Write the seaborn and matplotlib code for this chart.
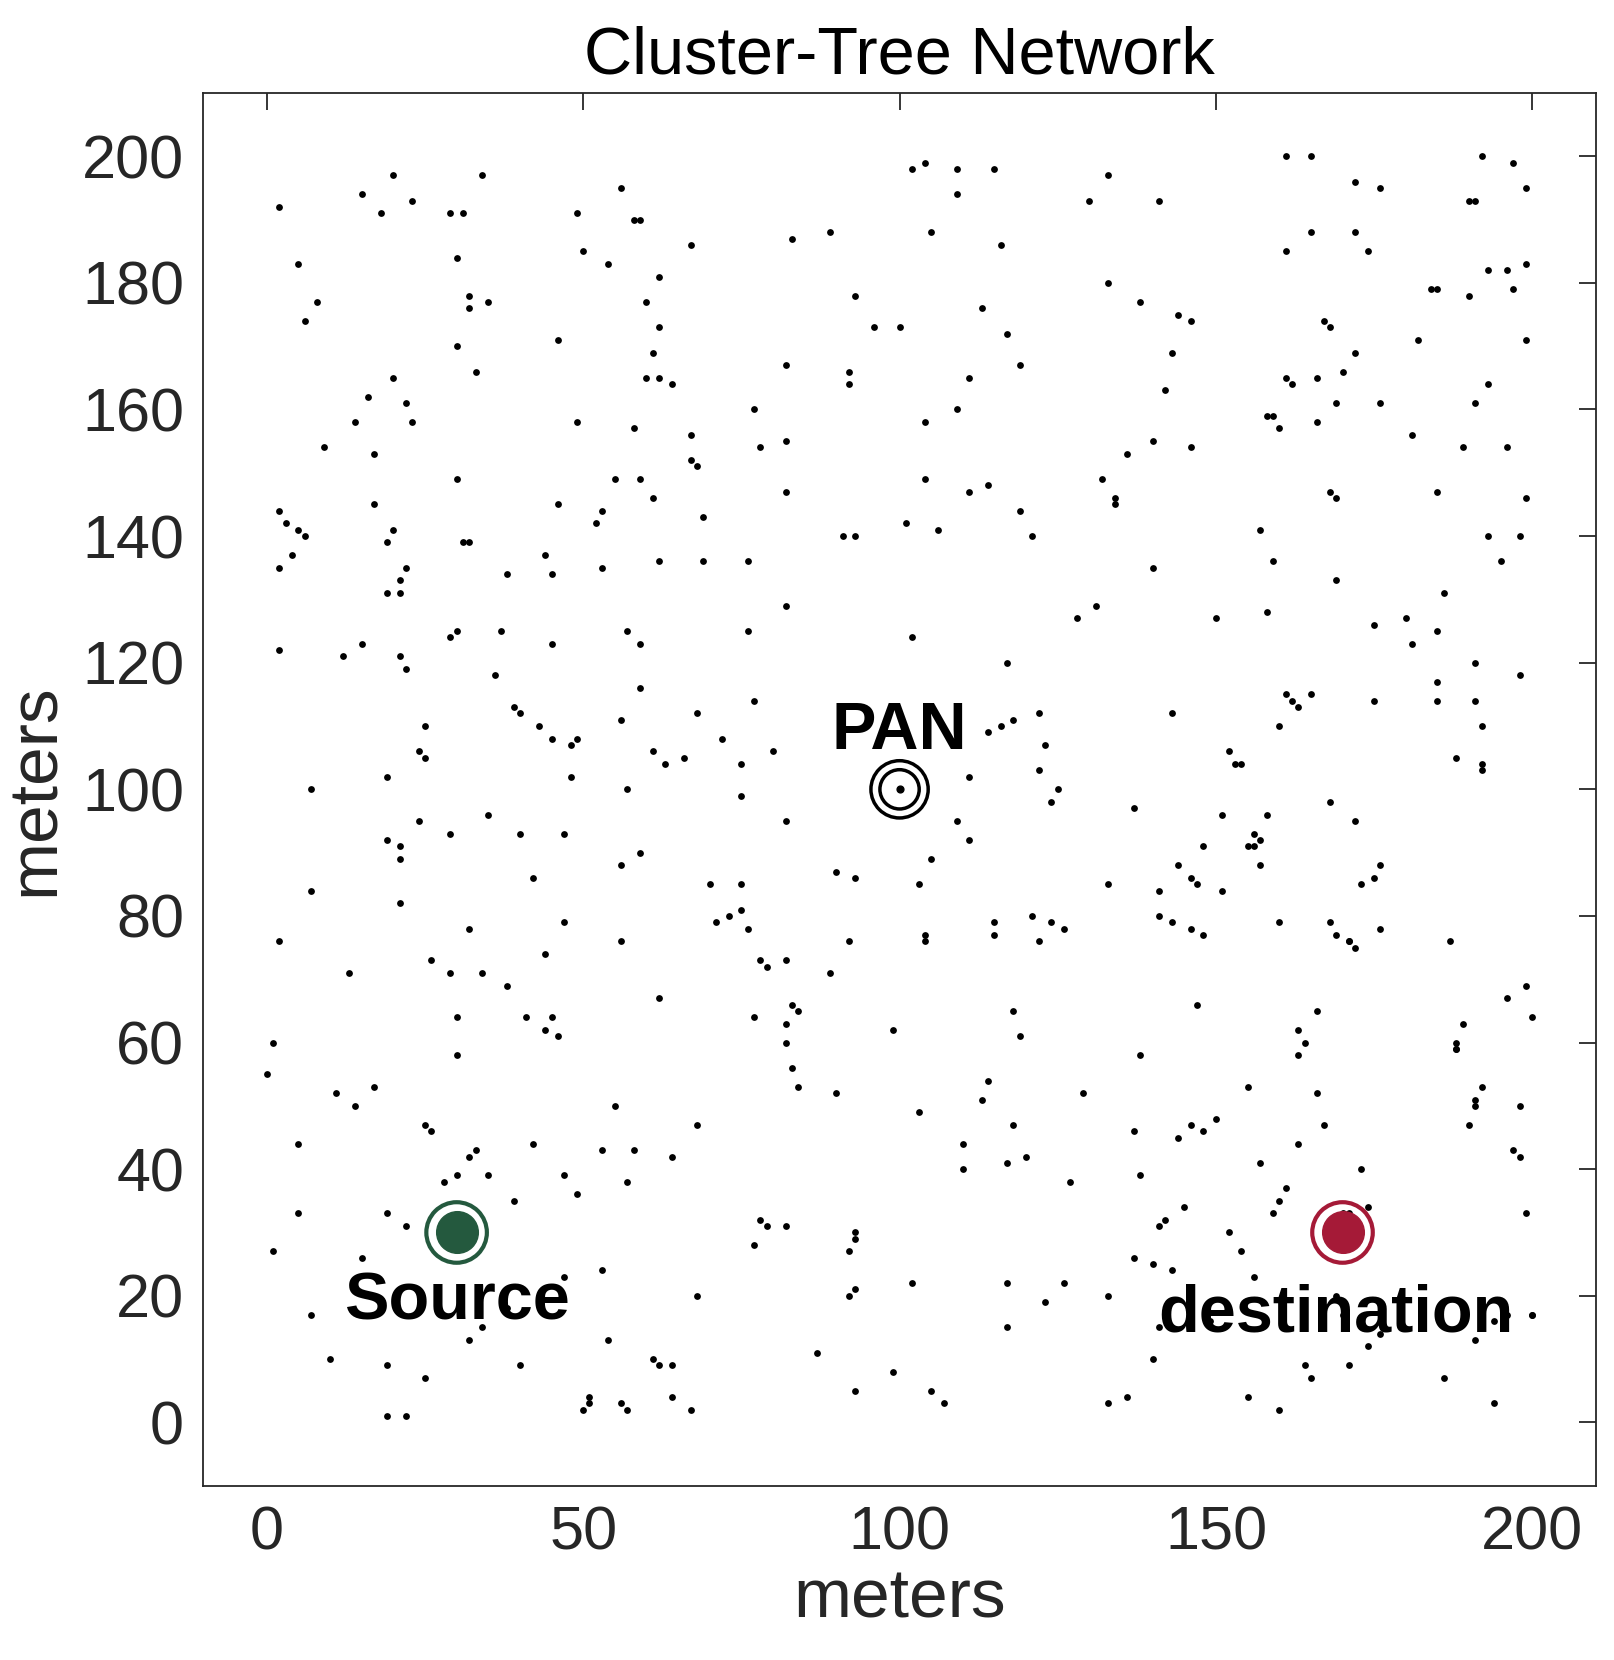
import numpy as np
import pandas as pd
import matplotlib
matplotlib.use("Agg")
import matplotlib.pyplot as plt
import seaborn as sns

node_x = [20,15,2,23,18,29,31,34,49,56,50,59,54,67,83,89,102,104,109,115,109,105,116,133,130,141,161,192,197,199,190,172,176,161,193,197,199,199,185,
5,6,8,20,22,23,14,16,17,9,30,32,32,35,33,30,2,3,2,4,5,6,17,20,19,22,21,19,21,30,32,31,29,30,2,12,15,21,22,25,24,25,7,19,19,21,24,21,29,35,21,7,2,13,26,29,32,34,30,30,1,0,11,14,17,25,26,5,5,1,19,15,22,28,30,32,33,35,39,7,10,19,19,22,25,32,34,40,38,37,36,39,40,38,40,42,38,41,45,44,46,44,47,42,47,49,47,43,45,48,48,44,45,46,46,45,47,49,49,
50,51,51,53,54,56,57,55,53,58,57,56,57,59,56,56,59,57,59,59,61,52,53,53,55,58,60,62,61,62,60,62,58,62,61,63,64,67,68,67,69,69,76,66,68,72,75,75,77,78,77,82,82,82,76,82,80,82,70,71,73,75,75,76,78,79,82,89,83,84,82,82,83,84,77,68,64,62,68,61,62,64,64,67,78,79,77,82,87,90,93,92,93,92,93,93,99,92,93,90,93,92,92,93,96,100,99,91,
101,102,104,104,106,103,105,109,104,104,103,110,110,102,105,107,109,111,113,117,119,114,111,119,121,117,111,111,115,115,118,119,114,113,118,117,120,117,117,123,126,121,122,124,126,122,123,124,125,122,118,116,114,128,131,127,129,133,133,133,136,132,134,134,136,133,138,140,140,142,143,144,146,146,137,143,141,141,143,146,144,146,147,148,148,150,151,152,153,151,138,137,137,138,140,141,140,141,142,145,144,146,150,148,143,147,149,
154,156,156,157,158,157,155,155,157,156,159,160,160,157,158,159,158,159,160,161,162,161,160,162,163,165,161,163,163,164,166,167,166,163,160,155,152,154,164,165,166,166,167,168,169,168,169,168,168,169,171,171,172,173,175,176,176,172,173,171,174,170,169,170,174,171,169,175,175,172,170,176,180,181,181,184,182,185,185,186,185,188,189,190,191,191,191,191,192,192,192,193,193,196,196,195,198,198,199,185,187,188,188,189,190,191,191,192,198,199,196,200,188,191,194,198,197,199,186,194,196,200,200,176,172,165,165,174]
node_y = [197,194,192,193,191,191,191,197,191,195,185,190,183,186,187,188,198,199,198,198,194,188,186,197,193,193,200,200,199,195,193,188,195,185,182,179,183,171,179,
183,174,177,165,161,158,158,162,153,154,170,178,176,177,166,184,144,142,135,137,141,140,145,141,139,135,133,131,131,149,139,139,124,125,122,121,123,121,119,110,106,105,100,102,92,91,95,89,93,96,82,84,76,71,73,71,78,71,64,58,60,55,52,50,53,47,46,44,33,27,33,26,31,38,39,42,43,39,35,17,10,9,1,1,7,13,15,9,18,125,118,113,112,134,93,86,69,64,64,62,61,74,79,44,39,36,23,110,108,102,107,137,134,145,171,123,93,158,108,
2,3,4,24,13,3,2,50,43,43,38,76,100,90,88,111,116,125,123,149,146,142,144,135,149,157,165,165,169,173,177,181,190,136,106,104,164,156,151,152,143,136,136,105,112,108,104,99,114,154,160,155,147,129,125,167,106,95,85,79,80,81,85,78,73,72,73,71,66,65,63,60,56,53,64,47,42,67,20,10,9,9,4,2,32,31,28,31,11,52,29,27,30,20,21,5,8,76,86,87,140,166,164,178,173,173,62,140,
142,124,149,158,141,85,89,95,77,76,49,44,40,22,5,3,160,165,176,172,167,148,147,144,140,120,102,92,79,77,65,61,54,51,47,41,42,22,15,19,22,80,76,79,78,103,107,98,100,112,111,110,109,127,129,38,52,85,20,3,4,149,146,145,153,180,177,155,135,163,169,175,174,154,97,112,84,80,79,78,88,86,85,91,77,127,96,106,104,84,58,46,26,39,25,15,10,31,32,34,45,47,48,46,24,66,16,
104,93,91,92,96,88,91,53,41,23,33,35,79,141,128,136,159,159,157,165,164,115,110,114,113,115,37,62,58,60,52,47,65,44,2,4,30,27,9,7,165,158,174,173,161,147,146,98,79,77,76,76,75,85,86,88,78,95,40,33,34,33,20,17,12,9,133,126,114,169,166,161,127,156,123,179,171,114,117,131,125,105,154,178,193,161,120,114,103,104,110,140,164,182,154,136,140,118,146,147,76,59,59,63,47,50,51,53,50,69,67,64,60,13,16,42,43,33,7,3,17,17,17,14,196,188,200,185,195]

n = min(len(node_x), len(node_y))
nodes = pd.DataFrame({"x": node_x[:n], "y": node_y[:n]})

special_names = ["Source", "destination", "PAN"]
special_x = [30, 170, 100]
special_y = [30, 30, 100]

sns.set_style("white")
plt.rcParams['font.family'] = ['Liberation Sans', 'DejaVu Sans']

fig = plt.figure(figsize=(16.15, 16.6), dpi=100)
ax = fig.add_axes([0.126, 0.105, 0.862, 0.839])
sns.scatterplot(data=nodes, x="x", y="y", ax=ax, color="black", s=24, linewidth=0)

# PAN
ax.scatter([special_x[2]], [special_y[2]], s=1700, facecolors="none", edgecolors="black", linewidths=2.5, zorder=3)
ax.scatter([special_x[2]], [special_y[2]], s=800, facecolors="none", edgecolors="black", linewidths=2.5, zorder=3)
ax.scatter([special_x[2]], [special_y[2]], s=24, color="black", zorder=3)
# Source
ax.scatter([special_x[0]], [special_y[0]], s=1900, facecolors="none", edgecolors="#24593e", linewidths=3, zorder=3)
ax.scatter([special_x[0]], [special_y[0]], s=900, color="#24593e", zorder=3)
# destination
ax.scatter([special_x[1]], [special_y[1]], s=1900, facecolors="none", edgecolors="#a51a37", linewidths=3, zorder=3)
ax.scatter([special_x[1]], [special_y[1]], s=900, color="#a51a37", zorder=3)

ax.text(100, 109, "PAN", ha="center", va="center", fontsize=48, fontweight="bold", color="black")
ax.text(30, 19, "Source", ha="center", va="center", fontsize=48, fontweight="bold", color="black")
ax.text(169, 17, "destination", ha="center", va="center", fontsize=48, fontweight="bold", color="black")

ax.set_xlim(-10, 210)
ax.set_ylim(-10, 210)
ax.set_xticks([0, 50, 100, 150, 200])
ax.set_yticks(range(0, 201, 20))
ax.tick_params(direction="in", top=True, right=True, length=12, width=1.3, labelsize=44, colors="#262626", pad=14)
for s in ax.spines.values():
    s.set_color("#262626"); s.set_linewidth(1.3)
ax.set_xlabel("meters", fontsize=50, color="#262626", labelpad=4)
ax.set_ylabel("meters", fontsize=50, color="#262626", labelpad=10)
ax.set_title("Cluster-Tree Network", fontsize=48, color="black", pad=14)
fig.savefig("out.png", dpi=100)
